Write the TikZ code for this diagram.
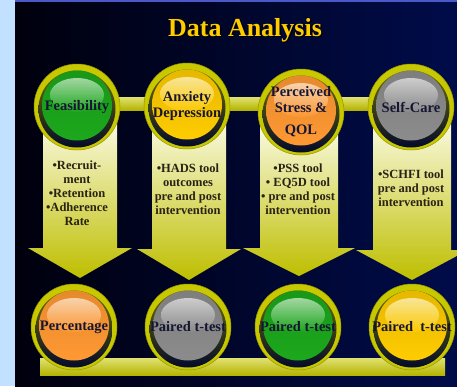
\documentclass[tikz,border=0pt]{standalone}
\usepackage{fontspec}
\setmainfont{Liberation Serif}
\usetikzlibrary{backgrounds}

\definecolor{navy}{HTML}{000C4A}
\definecolor{ink}{HTML}{161634}
\definecolor{notebrown}{HTML}{2A2212}
\definecolor{ringyellow}{HTML}{C8C800}
\definecolor{ballgreen}{HTML}{1CA81C}
\definecolor{ballgold}{HTML}{FFCC00}
\definecolor{ballorange}{HTML}{FF9933}
\definecolor{ballgray}{HTML}{8C8C8C}
\definecolor{titlegold}{HTML}{FFCC00}
\definecolor{paleblue}{HTML}{C2E0FF}
\definecolor{edgeblue}{HTML}{4A58C8}

\begin{document}
\begin{tikzpicture}[
  x=1pt, y=-1pt,
  title/.style={text=titlegold, font=\bfseries\fontsize{26}{28}\selectfont, inner sep=0pt},
  ball/.style={circle, minimum size=86pt, inner sep=0pt, fill=ringyellow,
    draw=ringyellow!75!black, line width=.5pt, align=center, text=ink,
    font=\bfseries\fontsize{14.5}{16}\selectfont,
    path picture={
      \shade[top color=ringyellow!60!black, bottom color=navy!60!black]
        ([yshift=-2pt]path picture bounding box.center) circle (38.5pt);
      \shade[top color=#1!90!black, bottom color=#1]
        ([yshift=1.5pt]path picture bounding box.center) circle (35pt);
      \shade[top color=white!85!#1, bottom color=#1, opacity=.7]
        ([yshift=12pt]path picture bounding box.center) ellipse (27pt and 17pt);
    }},
  note/.style={align=center, text=notebrown, inner sep=0pt,
    font=\bfseries\fontsize{12.5}{14}\selectfont},
  arrowbody/.style={top color=white!96!yellow, bottom color=ringyellow!95!black},
  bar/.style={top color=ringyellow!55!white, bottom color=ringyellow!90!black}
]
  \useasboundingbox (0,0) rectangle (457,386);

  \node[title] (title) at (245,30) {Data Analysis};

  % measures
  \node[ball=ballgreen]  (feasibility) at (77,107)  {Feasibility};
  \node[ball=ballgold]   (anxiety)     at (187,106) {Anxiety\\Depression};
  \node[ball=ballorange] (stress)      at (301,112) {Perceived\\Stress \&\\[6pt]QOL};
  \node[ball=ballgray]   (selfcare)    at (411,107) {Self-Care};

  % what is collected
  \node[note] (feasnote)    at (77,193)  {•Recruit-\\ment\\•Retention\\•Adherence\\Rate};
  \node[note] (anxnote)     at (188,189) {•HADS tool\\outcomes\\pre and post\\intervention};
  \node[note] (stressnote)  at (298,189) {•PSS tool\\• EQ5D tool\\• pre and post\\intervention};
  \node[note] (selfnote)    at (411,188) {•SCHFI tool\\pre and post\\intervention};

  % tests
  \node[ball=ballorange] (percentage)   at (74,327)  {Percentage};
  \node[ball=ballgray]   (pairedanx)    at (188,327) {Paired t-test};
  \node[ball=ballgreen]  (pairedstress) at (298,327) {Paired t-test};
  \node[ball=ballgold]   (pairedself)   at (412,327) {Paired\ \ t-test};

  \begin{pgfonlayer}{background}
    \fill[paleblue] (0,0) rectangle (15,386);
    \fill[edgeblue] (15,0) rectangle (457,2.5);
    \shade[left color=black!95!blue, right color=navy] (15,2.5) rectangle (457,386);
    \node[title, text=black] (titleshadow) at ([xshift=1.5pt,yshift=-1.5pt]title.center) {Data Analysis};

    \shade[bar] ([yshift=10pt]feasibility.center) rectangle ([yshift=-3pt]selfcare.center);
    \shade[bar] ([xshift=-34pt,yshift=-31pt]percentage.center) rectangle ([xshift=33pt,yshift=-48pt]pairedself.center);

    \shade[arrowbody] ([xshift=-34pt]feasibility.center) -- ++(0,141) -- ++(-15,0)
      -- ++(52,30) -- ++(52,-30) -- ++(-15,0) -- ++(0,-141) -- cycle;
    \shade[arrowbody] ([xshift=-35pt]anxiety.center) -- ++(0,143) -- ++(-15,0)
      -- ++(52,31) -- ++(52,-31) -- ++(-15,0) -- ++(0,-143) -- cycle;
    \shade[arrowbody] ([xshift=-41pt]stress.center) -- ++(0,136) -- ++(-17,0)
      -- ++(56,28) -- ++(56,-28) -- ++(-17,0) -- ++(0,-136) -- cycle;
    \shade[arrowbody] ([xshift=-38pt]selfcare.center) -- ++(0,143) -- ++(-17,0)
      -- ++(56,30) -- ++(56,-30) -- ++(-17,0) -- ++(0,-143) -- cycle;
  \end{pgfonlayer}
\end{tikzpicture}
\end{document}
